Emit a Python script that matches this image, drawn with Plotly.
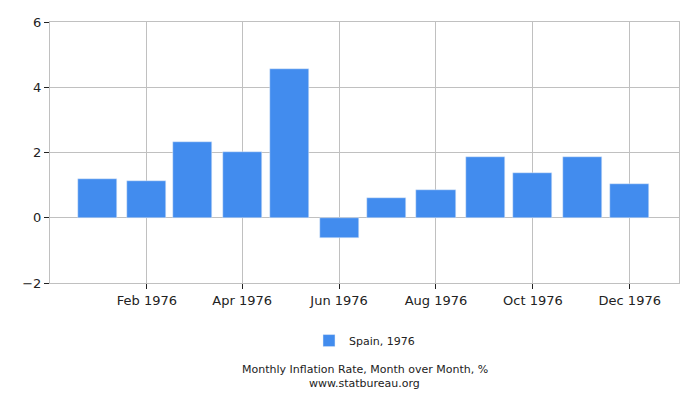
import plotly.graph_objects as go

months = ["1976-01-01", "1976-02-01", "1976-03-01", "1976-04-01", "1976-05-01", "1976-06-01",
          "1976-07-01", "1976-08-01", "1976-09-01", "1976-10-01", "1976-11-01", "1976-12-01"]
values = [1.19, 1.13, 2.33, 2.02, 4.56, -0.61, 0.61, 0.86, 1.87, 1.38, 1.87, 1.04]
series_name = "Spain, 1976"
title_lines = ["Monthly Inflation Rate, Month over Month, %", "www.statbureau.org"]

DAY = 86400000
fig = go.Figure()
fig.add_trace(go.Bar(x=months, y=values, name=series_name, marker_color="#428CEE",
                     width=24.6 * DAY))

plot_top, plot_h = 22, 400 - 22 - 117

def py(pixel_y):
    return (plot_top + plot_h - pixel_y) / plot_h

fig.update_layout(
    width=700, height=400,
    margin=dict(l=50, r=21, t=22, b=117),
    paper_bgcolor="white", plot_bgcolor="white",
    font=dict(family="DejaVu Sans", size=13, color="#222"),
    showlegend=True,
    legend=dict(orientation="h", x=0.5, xanchor="center", y=-0.165, yanchor="top",
                font=dict(size=11)),
    xaxis=dict(type="date", range=["1975-12-02", "1977-01-01"], tick0="1976-02-01", dtick="M2",
               tickformat="%b %Y", showgrid=True, gridcolor="#c0c0c0", gridwidth=1,
               ticks="outside", ticklen=5, tickcolor="#222", showline=True, linecolor="#c0c0c0",
               mirror=True, zeroline=False),
    yaxis=dict(range=[-2, 6], dtick=2, showgrid=True, gridcolor="#c0c0c0", ticks="outside",
               ticklen=5, tickcolor="#222", showline=True, linecolor="#c0c0c0", mirror=True,
               zeroline=True, zerolinecolor="#c0c0c0", zerolinewidth=1),
    annotations=[
        dict(text=title_lines[0], x=0.5, xref="paper", y=py(369), yref="paper",
             xanchor="center", yanchor="middle", showarrow=False,
             font=dict(size=11, color="#222")),
        dict(text=title_lines[1], x=0.5, xref="paper", y=py(383), yref="paper",
             xanchor="center", yanchor="middle", showarrow=False,
             font=dict(size=11, color="#222")),
    ],
    bargap=0,
)
fig.write_html("out.html", post_script="document.body.style.margin='0';",
               config={"displayModeBar": False})
